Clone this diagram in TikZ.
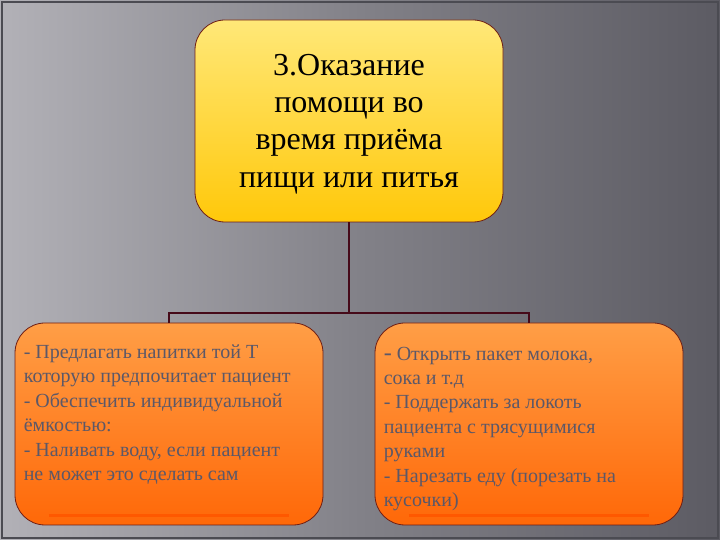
\documentclass[tikz,border=0pt]{standalone}
\usepackage{fontspec}
\setmainfont{Liberation Serif}
\newfontfamily\tnr{Liberation Serif}
\usetikzlibrary{positioning}
\definecolor{bgL}{RGB}{178,177,183}
\definecolor{bgM}{RGB}{130,129,136}
\definecolor{bgR}{RGB}{92,91,99}
\definecolor{ylTop}{RGB}{255,232,120}
\definecolor{ylBot}{RGB}{255,200,10}
\definecolor{orTop}{RGB}{255,158,70}
\definecolor{orBot}{RGB}{255,104,8}
\definecolor{orLine}{RGB}{255,88,0}
\definecolor{lineRed}{RGB}{70,10,25}
\definecolor{edge}{RGB}{110,30,20}
\definecolor{txtGray}{RGB}{92,88,104}
\begin{document}
\begin{tikzpicture}[x=1pt,y=1pt,
  box/.style={draw=edge,line width=0.8pt,rounded corners=30pt,minimum width=308pt,minimum height=202pt,inner sep=0pt},
  topbox/.style={box,top color=ylTop,bottom color=ylBot},
  subbox/.style={box,top color=orTop,bottom color=orBot},
  conn/.style={draw=lineRed,line width=2pt},
  gloss/.style={draw=orLine,line width=2.5pt},
  btext/.style={anchor=north west,align=left,text=txtGray,font=\tnr\fontsize{20}{24.4}\selectfont,inner sep=0pt}
]
\useasboundingbox (0,0) rectangle (720,540);
\shade[shading angle=60,left color=bgL,right color=bgR,middle color=bgM] (0,0) rectangle (720,540);
\draw[color={rgb,255:red,75;green,75;blue,82},line width=1.5pt] (2,2) rectangle (718,538);
% top box
\node[topbox] (top) at (349,419) {};
\node[align=center,font=\tnr\fontsize{32}{37.4}\selectfont,text=black] (toptext) at (349,416) {3.Оказание\\помощи во\\время приёма\\пищи или питья};
% sub boxes
\node[subbox] (left) at (169,116) {};
\node[subbox] (right) at (529,116) {};
\coordinate (gl1) at ([xshift=34pt,yshift=10pt]left.south west);
\coordinate (gl2) at ([xshift=-34pt,yshift=10pt]left.south east);
\coordinate (gr1) at ([xshift=34pt,yshift=10pt]right.south west);
\coordinate (gr2) at ([xshift=-34pt,yshift=10pt]right.south east);
\draw[gloss] (gl1) -- (gl2);
\draw[gloss] (gr1) -- (gr2);
\coordinate (mid) at (349,227);
\draw[conn] (top.south) -- (mid);
\draw[conn] (left.north) |- (mid) -| (right.north);
\node[btext] (lt) at ([xshift=9pt,yshift=-22pt]left.north west) {- Предлагать напитки той Т\\которую предпочитает пациент\\- Обеспечить индивидуальной\\ёмкостью:\\- Наливать воду, если пациент\\не может это сделать сам};
\node[btext] (rt) at ([xshift=9pt,yshift=-24pt]right.north west) {{\fontsize{24}{24.4}\selectfont-} Открыть пакет молока,\\сока и т.д\\- Поддержать за локоть\\пациента с трясущимися\\руками\\- Нарезать еду (порезать на\\кусочки)};
\end{tikzpicture}
\end{document}
